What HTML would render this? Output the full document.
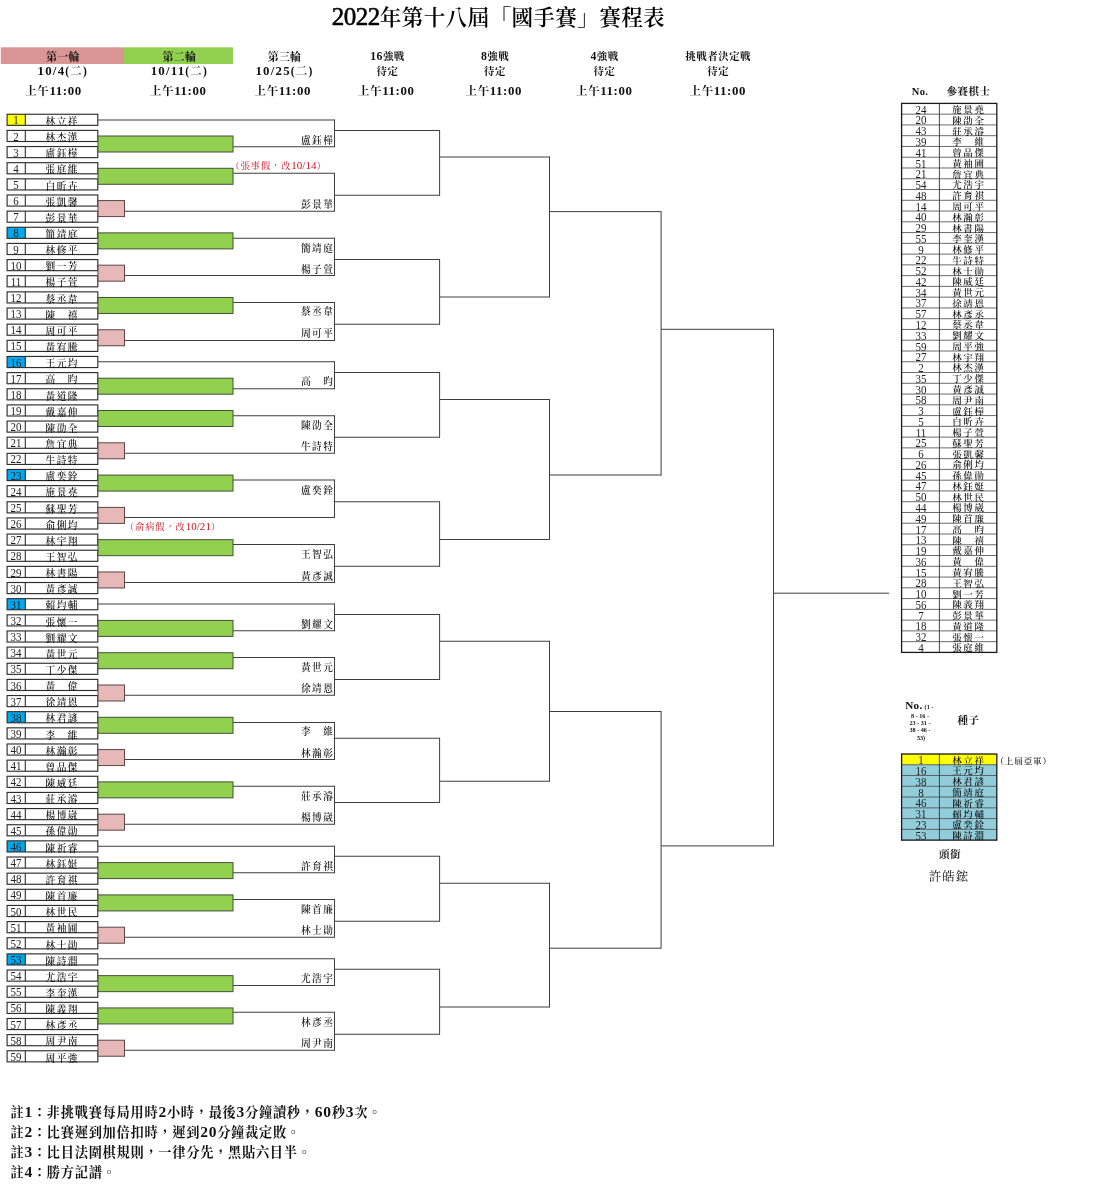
<!DOCTYPE html>
<html lang="zh-Hant"><head><meta charset="utf-8"><title>2022年第十八屆「國手賽」賽程表</title>
<style>
html,body{margin:0;padding:0;background:#fff;}
body{width:1098px;height:1200px;position:relative;overflow:hidden;font-family:"Liberation Serif","Noto Serif CJK SC",serif;color:#111;}
svg{position:absolute;left:0;top:0;}
.t{position:absolute;white-space:nowrap;transform:translateY(-50%);line-height:1;}
.num{font-size:13.2px;color:#222;transform:translateY(-50%) scaleX(0.83);}
.nm{font-size:9.7px;letter-spacing:1.45px;text-indent:1.45px;color:#000;font-weight:500;margin-top:1px;}
.hdA{font-size:11px;font-weight:bold;color:#111;letter-spacing:0.2px;}
.hdB{font-size:11.5px;font-weight:bold;color:#111;letter-spacing:1.2px;}
.hdS{font-size:10.5px;font-weight:bold;color:#111;letter-spacing:0.45px;}
.red{font-size:9.2px;color:#cc1020;letter-spacing:0.95px;}
.red .d{font-size:1.2em;line-height:0;letter-spacing:0;}
.nmT{font-size:9.5px;letter-spacing:1.6px;text-indent:1.6px;}
.title{font-size:21.6px;font-weight:600;color:#000;letter-spacing:0.35px;}
.title .d{font-size:25px;font-weight:normal;-webkit-text-stroke:0.55px #000;line-height:0;letter-spacing:-0.5px;}
.hd .d,.hdB .d,.hdS .d{font-size:1.12em;line-height:0;}
.note .d{font-size:15.5px;line-height:0;}
.hd{font-size:11.5px;font-weight:bold;color:#111;letter-spacing:0.6px;}
.hd2{font-size:10.5px;font-weight:bold;color:#111;letter-spacing:0.4px;}
.big{font-size:12.5px;letter-spacing:1px;}
.tiny{font-size:6.2px;font-weight:bold;}
.nob{font-size:11.2px;font-weight:bold;letter-spacing:0.3px;}
.note{font-size:13.2px;font-weight:bold;letter-spacing:0.75px;color:#111;}
</style></head><body>
<svg width="1098" height="1200" viewBox="0 0 1098 1200" shape-rendering="auto">
<rect x="0.80" y="47.30" width="123.20" height="16.70" fill="#d99694"/>
<rect x="124.00" y="47.30" width="109.00" height="16.70" fill="#92d050"/>
<rect x="7.10" y="114.25" width="18.20" height="11.10" fill="#ffff00"/>
<rect x="7.10" y="114.25" width="90.70" height="11.10" fill="none" stroke="#2e2e2e" stroke-width="1.15"/>
<line x1="25.30" y1="114.25" x2="25.30" y2="125.35" stroke="#2e2e2e" stroke-width="1.1"/>
<rect x="7.10" y="130.40" width="90.70" height="11.10" fill="none" stroke="#2e2e2e" stroke-width="1.15"/>
<line x1="25.30" y1="130.40" x2="25.30" y2="141.50" stroke="#2e2e2e" stroke-width="1.1"/>
<rect x="7.10" y="146.54" width="90.70" height="11.10" fill="none" stroke="#2e2e2e" stroke-width="1.15"/>
<line x1="25.30" y1="146.54" x2="25.30" y2="157.64" stroke="#2e2e2e" stroke-width="1.1"/>
<rect x="7.10" y="162.69" width="90.70" height="11.10" fill="none" stroke="#2e2e2e" stroke-width="1.15"/>
<line x1="25.30" y1="162.69" x2="25.30" y2="173.79" stroke="#2e2e2e" stroke-width="1.1"/>
<rect x="7.10" y="178.84" width="90.70" height="11.10" fill="none" stroke="#2e2e2e" stroke-width="1.15"/>
<line x1="25.30" y1="178.84" x2="25.30" y2="189.94" stroke="#2e2e2e" stroke-width="1.1"/>
<rect x="7.10" y="194.98" width="90.70" height="11.10" fill="none" stroke="#2e2e2e" stroke-width="1.15"/>
<line x1="25.30" y1="194.98" x2="25.30" y2="206.08" stroke="#2e2e2e" stroke-width="1.1"/>
<rect x="7.10" y="211.13" width="90.70" height="11.10" fill="none" stroke="#2e2e2e" stroke-width="1.15"/>
<line x1="25.30" y1="211.13" x2="25.30" y2="222.23" stroke="#2e2e2e" stroke-width="1.1"/>
<rect x="7.10" y="227.28" width="18.20" height="11.10" fill="#00a8ee"/>
<rect x="7.10" y="227.28" width="90.70" height="11.10" fill="none" stroke="#2e2e2e" stroke-width="1.15"/>
<line x1="25.30" y1="227.28" x2="25.30" y2="238.38" stroke="#2e2e2e" stroke-width="1.1"/>
<rect x="7.10" y="243.43" width="90.70" height="11.10" fill="none" stroke="#2e2e2e" stroke-width="1.15"/>
<line x1="25.30" y1="243.43" x2="25.30" y2="254.53" stroke="#2e2e2e" stroke-width="1.1"/>
<rect x="7.10" y="259.57" width="90.70" height="11.10" fill="none" stroke="#2e2e2e" stroke-width="1.15"/>
<line x1="25.30" y1="259.57" x2="25.30" y2="270.67" stroke="#2e2e2e" stroke-width="1.1"/>
<rect x="7.10" y="275.72" width="90.70" height="11.10" fill="none" stroke="#2e2e2e" stroke-width="1.15"/>
<line x1="25.30" y1="275.72" x2="25.30" y2="286.82" stroke="#2e2e2e" stroke-width="1.1"/>
<rect x="7.10" y="291.87" width="90.70" height="11.10" fill="none" stroke="#2e2e2e" stroke-width="1.15"/>
<line x1="25.30" y1="291.87" x2="25.30" y2="302.97" stroke="#2e2e2e" stroke-width="1.1"/>
<rect x="7.10" y="308.01" width="90.70" height="11.10" fill="none" stroke="#2e2e2e" stroke-width="1.15"/>
<line x1="25.30" y1="308.01" x2="25.30" y2="319.11" stroke="#2e2e2e" stroke-width="1.1"/>
<rect x="7.10" y="324.16" width="90.70" height="11.10" fill="none" stroke="#2e2e2e" stroke-width="1.15"/>
<line x1="25.30" y1="324.16" x2="25.30" y2="335.26" stroke="#2e2e2e" stroke-width="1.1"/>
<rect x="7.10" y="340.31" width="90.70" height="11.10" fill="none" stroke="#2e2e2e" stroke-width="1.15"/>
<line x1="25.30" y1="340.31" x2="25.30" y2="351.41" stroke="#2e2e2e" stroke-width="1.1"/>
<rect x="7.10" y="356.45" width="18.20" height="11.10" fill="#00a8ee"/>
<rect x="7.10" y="356.45" width="90.70" height="11.10" fill="none" stroke="#2e2e2e" stroke-width="1.15"/>
<line x1="25.30" y1="356.45" x2="25.30" y2="367.56" stroke="#2e2e2e" stroke-width="1.1"/>
<rect x="7.10" y="372.60" width="90.70" height="11.10" fill="none" stroke="#2e2e2e" stroke-width="1.15"/>
<line x1="25.30" y1="372.60" x2="25.30" y2="383.70" stroke="#2e2e2e" stroke-width="1.1"/>
<rect x="7.10" y="388.75" width="90.70" height="11.10" fill="none" stroke="#2e2e2e" stroke-width="1.15"/>
<line x1="25.30" y1="388.75" x2="25.30" y2="399.85" stroke="#2e2e2e" stroke-width="1.1"/>
<rect x="7.10" y="404.90" width="90.70" height="11.10" fill="none" stroke="#2e2e2e" stroke-width="1.15"/>
<line x1="25.30" y1="404.90" x2="25.30" y2="416.00" stroke="#2e2e2e" stroke-width="1.1"/>
<rect x="7.10" y="421.04" width="90.70" height="11.10" fill="none" stroke="#2e2e2e" stroke-width="1.15"/>
<line x1="25.30" y1="421.04" x2="25.30" y2="432.14" stroke="#2e2e2e" stroke-width="1.1"/>
<rect x="7.10" y="437.19" width="90.70" height="11.10" fill="none" stroke="#2e2e2e" stroke-width="1.15"/>
<line x1="25.30" y1="437.19" x2="25.30" y2="448.29" stroke="#2e2e2e" stroke-width="1.1"/>
<rect x="7.10" y="453.34" width="90.70" height="11.10" fill="none" stroke="#2e2e2e" stroke-width="1.15"/>
<line x1="25.30" y1="453.34" x2="25.30" y2="464.44" stroke="#2e2e2e" stroke-width="1.1"/>
<rect x="7.10" y="469.48" width="18.20" height="11.10" fill="#00a8ee"/>
<rect x="7.10" y="469.48" width="90.70" height="11.10" fill="none" stroke="#2e2e2e" stroke-width="1.15"/>
<line x1="25.30" y1="469.48" x2="25.30" y2="480.58" stroke="#2e2e2e" stroke-width="1.1"/>
<rect x="7.10" y="485.63" width="90.70" height="11.10" fill="none" stroke="#2e2e2e" stroke-width="1.15"/>
<line x1="25.30" y1="485.63" x2="25.30" y2="496.73" stroke="#2e2e2e" stroke-width="1.1"/>
<rect x="7.10" y="501.78" width="90.70" height="11.10" fill="none" stroke="#2e2e2e" stroke-width="1.15"/>
<line x1="25.30" y1="501.78" x2="25.30" y2="512.88" stroke="#2e2e2e" stroke-width="1.1"/>
<rect x="7.10" y="517.92" width="90.70" height="11.10" fill="none" stroke="#2e2e2e" stroke-width="1.15"/>
<line x1="25.30" y1="517.92" x2="25.30" y2="529.02" stroke="#2e2e2e" stroke-width="1.1"/>
<rect x="7.10" y="534.07" width="90.70" height="11.10" fill="none" stroke="#2e2e2e" stroke-width="1.15"/>
<line x1="25.30" y1="534.07" x2="25.30" y2="545.17" stroke="#2e2e2e" stroke-width="1.1"/>
<rect x="7.10" y="550.22" width="90.70" height="11.10" fill="none" stroke="#2e2e2e" stroke-width="1.15"/>
<line x1="25.30" y1="550.22" x2="25.30" y2="561.32" stroke="#2e2e2e" stroke-width="1.1"/>
<rect x="7.10" y="566.37" width="90.70" height="11.10" fill="none" stroke="#2e2e2e" stroke-width="1.15"/>
<line x1="25.30" y1="566.37" x2="25.30" y2="577.47" stroke="#2e2e2e" stroke-width="1.1"/>
<rect x="7.10" y="582.51" width="90.70" height="11.10" fill="none" stroke="#2e2e2e" stroke-width="1.15"/>
<line x1="25.30" y1="582.51" x2="25.30" y2="593.61" stroke="#2e2e2e" stroke-width="1.1"/>
<rect x="7.10" y="598.66" width="18.20" height="11.10" fill="#00a8ee"/>
<rect x="7.10" y="598.66" width="90.70" height="11.10" fill="none" stroke="#2e2e2e" stroke-width="1.15"/>
<line x1="25.30" y1="598.66" x2="25.30" y2="609.76" stroke="#2e2e2e" stroke-width="1.1"/>
<rect x="7.10" y="614.81" width="90.70" height="11.10" fill="none" stroke="#2e2e2e" stroke-width="1.15"/>
<line x1="25.30" y1="614.81" x2="25.30" y2="625.91" stroke="#2e2e2e" stroke-width="1.1"/>
<rect x="7.10" y="630.95" width="90.70" height="11.10" fill="none" stroke="#2e2e2e" stroke-width="1.15"/>
<line x1="25.30" y1="630.95" x2="25.30" y2="642.05" stroke="#2e2e2e" stroke-width="1.1"/>
<rect x="7.10" y="647.10" width="90.70" height="11.10" fill="none" stroke="#2e2e2e" stroke-width="1.15"/>
<line x1="25.30" y1="647.10" x2="25.30" y2="658.20" stroke="#2e2e2e" stroke-width="1.1"/>
<rect x="7.10" y="663.25" width="90.70" height="11.10" fill="none" stroke="#2e2e2e" stroke-width="1.15"/>
<line x1="25.30" y1="663.25" x2="25.30" y2="674.35" stroke="#2e2e2e" stroke-width="1.1"/>
<rect x="7.10" y="679.39" width="90.70" height="11.10" fill="none" stroke="#2e2e2e" stroke-width="1.15"/>
<line x1="25.30" y1="679.39" x2="25.30" y2="690.50" stroke="#2e2e2e" stroke-width="1.1"/>
<rect x="7.10" y="695.54" width="90.70" height="11.10" fill="none" stroke="#2e2e2e" stroke-width="1.15"/>
<line x1="25.30" y1="695.54" x2="25.30" y2="706.64" stroke="#2e2e2e" stroke-width="1.1"/>
<rect x="7.10" y="711.69" width="18.20" height="11.10" fill="#00a8ee"/>
<rect x="7.10" y="711.69" width="90.70" height="11.10" fill="none" stroke="#2e2e2e" stroke-width="1.15"/>
<line x1="25.30" y1="711.69" x2="25.30" y2="722.79" stroke="#2e2e2e" stroke-width="1.1"/>
<rect x="7.10" y="727.84" width="90.70" height="11.10" fill="none" stroke="#2e2e2e" stroke-width="1.15"/>
<line x1="25.30" y1="727.84" x2="25.30" y2="738.94" stroke="#2e2e2e" stroke-width="1.1"/>
<rect x="7.10" y="743.98" width="90.70" height="11.10" fill="none" stroke="#2e2e2e" stroke-width="1.15"/>
<line x1="25.30" y1="743.98" x2="25.30" y2="755.08" stroke="#2e2e2e" stroke-width="1.1"/>
<rect x="7.10" y="760.13" width="90.70" height="11.10" fill="none" stroke="#2e2e2e" stroke-width="1.15"/>
<line x1="25.30" y1="760.13" x2="25.30" y2="771.23" stroke="#2e2e2e" stroke-width="1.1"/>
<rect x="7.10" y="776.28" width="90.70" height="11.10" fill="none" stroke="#2e2e2e" stroke-width="1.15"/>
<line x1="25.30" y1="776.28" x2="25.30" y2="787.38" stroke="#2e2e2e" stroke-width="1.1"/>
<rect x="7.10" y="792.42" width="90.70" height="11.10" fill="none" stroke="#2e2e2e" stroke-width="1.15"/>
<line x1="25.30" y1="792.42" x2="25.30" y2="803.52" stroke="#2e2e2e" stroke-width="1.1"/>
<rect x="7.10" y="808.57" width="90.70" height="11.10" fill="none" stroke="#2e2e2e" stroke-width="1.15"/>
<line x1="25.30" y1="808.57" x2="25.30" y2="819.67" stroke="#2e2e2e" stroke-width="1.1"/>
<rect x="7.10" y="824.72" width="90.70" height="11.10" fill="none" stroke="#2e2e2e" stroke-width="1.15"/>
<line x1="25.30" y1="824.72" x2="25.30" y2="835.82" stroke="#2e2e2e" stroke-width="1.1"/>
<rect x="7.10" y="840.86" width="18.20" height="11.10" fill="#00a8ee"/>
<rect x="7.10" y="840.86" width="90.70" height="11.10" fill="none" stroke="#2e2e2e" stroke-width="1.15"/>
<line x1="25.30" y1="840.86" x2="25.30" y2="851.96" stroke="#2e2e2e" stroke-width="1.1"/>
<rect x="7.10" y="857.01" width="90.70" height="11.10" fill="none" stroke="#2e2e2e" stroke-width="1.15"/>
<line x1="25.30" y1="857.01" x2="25.30" y2="868.11" stroke="#2e2e2e" stroke-width="1.1"/>
<rect x="7.10" y="873.16" width="90.70" height="11.10" fill="none" stroke="#2e2e2e" stroke-width="1.15"/>
<line x1="25.30" y1="873.16" x2="25.30" y2="884.26" stroke="#2e2e2e" stroke-width="1.1"/>
<rect x="7.10" y="889.31" width="90.70" height="11.10" fill="none" stroke="#2e2e2e" stroke-width="1.15"/>
<line x1="25.30" y1="889.31" x2="25.30" y2="900.41" stroke="#2e2e2e" stroke-width="1.1"/>
<rect x="7.10" y="905.45" width="90.70" height="11.10" fill="none" stroke="#2e2e2e" stroke-width="1.15"/>
<line x1="25.30" y1="905.45" x2="25.30" y2="916.55" stroke="#2e2e2e" stroke-width="1.1"/>
<rect x="7.10" y="921.60" width="90.70" height="11.10" fill="none" stroke="#2e2e2e" stroke-width="1.15"/>
<line x1="25.30" y1="921.60" x2="25.30" y2="932.70" stroke="#2e2e2e" stroke-width="1.1"/>
<rect x="7.10" y="937.75" width="90.70" height="11.10" fill="none" stroke="#2e2e2e" stroke-width="1.15"/>
<line x1="25.30" y1="937.75" x2="25.30" y2="948.85" stroke="#2e2e2e" stroke-width="1.1"/>
<rect x="7.10" y="953.89" width="18.20" height="11.10" fill="#00a8ee"/>
<rect x="7.10" y="953.89" width="90.70" height="11.10" fill="none" stroke="#2e2e2e" stroke-width="1.15"/>
<line x1="25.30" y1="953.89" x2="25.30" y2="964.99" stroke="#2e2e2e" stroke-width="1.1"/>
<rect x="7.10" y="970.04" width="90.70" height="11.10" fill="none" stroke="#2e2e2e" stroke-width="1.15"/>
<line x1="25.30" y1="970.04" x2="25.30" y2="981.14" stroke="#2e2e2e" stroke-width="1.1"/>
<rect x="7.10" y="986.19" width="90.70" height="11.10" fill="none" stroke="#2e2e2e" stroke-width="1.15"/>
<line x1="25.30" y1="986.19" x2="25.30" y2="997.29" stroke="#2e2e2e" stroke-width="1.1"/>
<rect x="7.10" y="1002.33" width="90.70" height="11.10" fill="none" stroke="#2e2e2e" stroke-width="1.15"/>
<line x1="25.30" y1="1002.33" x2="25.30" y2="1013.43" stroke="#2e2e2e" stroke-width="1.1"/>
<rect x="7.10" y="1018.48" width="90.70" height="11.10" fill="none" stroke="#2e2e2e" stroke-width="1.15"/>
<line x1="25.30" y1="1018.48" x2="25.30" y2="1029.58" stroke="#2e2e2e" stroke-width="1.1"/>
<rect x="7.10" y="1034.63" width="90.70" height="11.10" fill="none" stroke="#2e2e2e" stroke-width="1.15"/>
<line x1="25.30" y1="1034.63" x2="25.30" y2="1045.73" stroke="#2e2e2e" stroke-width="1.1"/>
<rect x="7.10" y="1050.78" width="90.70" height="11.10" fill="none" stroke="#2e2e2e" stroke-width="1.15"/>
<line x1="25.30" y1="1050.78" x2="25.30" y2="1061.88" stroke="#2e2e2e" stroke-width="1.1"/>
<line x1="98.00" y1="120.00" x2="334.50" y2="120.00" stroke="#3f3f3f" stroke-width="1"/>
<line x1="233.00" y1="146.75" x2="334.50" y2="146.75" stroke="#3f3f3f" stroke-width="1"/>
<line x1="233.00" y1="173.25" x2="334.50" y2="173.25" stroke="#3f3f3f" stroke-width="1"/>
<line x1="124.50" y1="211.25" x2="334.50" y2="211.25" stroke="#3f3f3f" stroke-width="1"/>
<line x1="233.00" y1="238.25" x2="334.50" y2="238.25" stroke="#3f3f3f" stroke-width="1"/>
<line x1="124.50" y1="275.50" x2="334.50" y2="275.50" stroke="#3f3f3f" stroke-width="1"/>
<line x1="233.00" y1="302.50" x2="334.50" y2="302.50" stroke="#3f3f3f" stroke-width="1"/>
<line x1="124.50" y1="340.50" x2="334.50" y2="340.50" stroke="#3f3f3f" stroke-width="1"/>
<line x1="98.00" y1="361.75" x2="334.50" y2="361.75" stroke="#3f3f3f" stroke-width="1"/>
<line x1="233.00" y1="388.75" x2="334.50" y2="388.75" stroke="#3f3f3f" stroke-width="1"/>
<line x1="233.00" y1="415.75" x2="334.50" y2="415.75" stroke="#3f3f3f" stroke-width="1"/>
<line x1="124.50" y1="453.25" x2="334.50" y2="453.25" stroke="#3f3f3f" stroke-width="1"/>
<line x1="233.00" y1="480.00" x2="334.50" y2="480.00" stroke="#3f3f3f" stroke-width="1"/>
<line x1="124.50" y1="517.50" x2="334.50" y2="517.50" stroke="#3f3f3f" stroke-width="1"/>
<line x1="233.00" y1="544.50" x2="334.50" y2="544.50" stroke="#3f3f3f" stroke-width="1"/>
<line x1="124.50" y1="582.50" x2="334.50" y2="582.50" stroke="#3f3f3f" stroke-width="1"/>
<line x1="98.00" y1="604.00" x2="334.50" y2="604.00" stroke="#3f3f3f" stroke-width="1"/>
<line x1="233.00" y1="630.75" x2="334.50" y2="630.75" stroke="#3f3f3f" stroke-width="1"/>
<line x1="233.00" y1="657.50" x2="334.50" y2="657.50" stroke="#3f3f3f" stroke-width="1"/>
<line x1="124.50" y1="695.25" x2="334.50" y2="695.25" stroke="#3f3f3f" stroke-width="1"/>
<line x1="233.00" y1="722.50" x2="334.50" y2="722.50" stroke="#3f3f3f" stroke-width="1"/>
<line x1="124.50" y1="759.50" x2="334.50" y2="759.50" stroke="#3f3f3f" stroke-width="1"/>
<line x1="233.00" y1="786.25" x2="334.50" y2="786.25" stroke="#3f3f3f" stroke-width="1"/>
<line x1="124.50" y1="824.25" x2="334.50" y2="824.25" stroke="#3f3f3f" stroke-width="1"/>
<line x1="98.00" y1="846.25" x2="334.50" y2="846.25" stroke="#3f3f3f" stroke-width="1"/>
<line x1="233.00" y1="872.75" x2="334.50" y2="872.75" stroke="#3f3f3f" stroke-width="1"/>
<line x1="233.00" y1="899.50" x2="334.50" y2="899.50" stroke="#3f3f3f" stroke-width="1"/>
<line x1="124.50" y1="937.25" x2="334.50" y2="937.25" stroke="#3f3f3f" stroke-width="1"/>
<line x1="98.00" y1="958.75" x2="334.50" y2="958.75" stroke="#3f3f3f" stroke-width="1"/>
<line x1="233.00" y1="985.50" x2="334.50" y2="985.50" stroke="#3f3f3f" stroke-width="1"/>
<line x1="233.00" y1="1012.25" x2="334.50" y2="1012.25" stroke="#3f3f3f" stroke-width="1"/>
<line x1="124.50" y1="1050.25" x2="334.50" y2="1050.25" stroke="#3f3f3f" stroke-width="1"/>
<line x1="334.50" y1="119.50" x2="334.50" y2="147.25" stroke="#3f3f3f" stroke-width="1"/>
<line x1="334.50" y1="130.50" x2="439.60" y2="130.50" stroke="#3f3f3f" stroke-width="1"/>
<line x1="334.50" y1="172.75" x2="334.50" y2="211.75" stroke="#3f3f3f" stroke-width="1"/>
<line x1="334.50" y1="195.25" x2="439.60" y2="195.25" stroke="#3f3f3f" stroke-width="1"/>
<line x1="334.50" y1="237.75" x2="334.50" y2="276.00" stroke="#3f3f3f" stroke-width="1"/>
<line x1="334.50" y1="259.50" x2="439.60" y2="259.50" stroke="#3f3f3f" stroke-width="1"/>
<line x1="334.50" y1="302.00" x2="334.50" y2="341.00" stroke="#3f3f3f" stroke-width="1"/>
<line x1="334.50" y1="324.25" x2="439.60" y2="324.25" stroke="#3f3f3f" stroke-width="1"/>
<line x1="334.50" y1="361.25" x2="334.50" y2="389.25" stroke="#3f3f3f" stroke-width="1"/>
<line x1="334.50" y1="372.50" x2="439.60" y2="372.50" stroke="#3f3f3f" stroke-width="1"/>
<line x1="334.50" y1="415.25" x2="334.50" y2="453.75" stroke="#3f3f3f" stroke-width="1"/>
<line x1="334.50" y1="437.25" x2="439.60" y2="437.25" stroke="#3f3f3f" stroke-width="1"/>
<line x1="334.50" y1="479.50" x2="334.50" y2="518.00" stroke="#3f3f3f" stroke-width="1"/>
<line x1="334.50" y1="501.75" x2="439.60" y2="501.75" stroke="#3f3f3f" stroke-width="1"/>
<line x1="334.50" y1="544.00" x2="334.50" y2="583.00" stroke="#3f3f3f" stroke-width="1"/>
<line x1="334.50" y1="566.25" x2="439.60" y2="566.25" stroke="#3f3f3f" stroke-width="1"/>
<line x1="334.50" y1="603.50" x2="334.50" y2="631.25" stroke="#3f3f3f" stroke-width="1"/>
<line x1="334.50" y1="614.50" x2="439.60" y2="614.50" stroke="#3f3f3f" stroke-width="1"/>
<line x1="334.50" y1="657.00" x2="334.50" y2="695.75" stroke="#3f3f3f" stroke-width="1"/>
<line x1="334.50" y1="679.50" x2="439.60" y2="679.50" stroke="#3f3f3f" stroke-width="1"/>
<line x1="334.50" y1="722.00" x2="334.50" y2="760.00" stroke="#3f3f3f" stroke-width="1"/>
<line x1="334.50" y1="738.25" x2="439.60" y2="738.25" stroke="#3f3f3f" stroke-width="1"/>
<line x1="334.50" y1="785.75" x2="334.50" y2="824.75" stroke="#3f3f3f" stroke-width="1"/>
<line x1="334.50" y1="802.50" x2="439.60" y2="802.50" stroke="#3f3f3f" stroke-width="1"/>
<line x1="334.50" y1="845.75" x2="334.50" y2="873.25" stroke="#3f3f3f" stroke-width="1"/>
<line x1="334.50" y1="856.25" x2="439.60" y2="856.25" stroke="#3f3f3f" stroke-width="1"/>
<line x1="334.50" y1="899.00" x2="334.50" y2="937.75" stroke="#3f3f3f" stroke-width="1"/>
<line x1="334.50" y1="921.25" x2="439.60" y2="921.25" stroke="#3f3f3f" stroke-width="1"/>
<line x1="334.50" y1="958.25" x2="334.50" y2="986.00" stroke="#3f3f3f" stroke-width="1"/>
<line x1="334.50" y1="969.25" x2="439.60" y2="969.25" stroke="#3f3f3f" stroke-width="1"/>
<line x1="334.50" y1="1011.75" x2="334.50" y2="1050.75" stroke="#3f3f3f" stroke-width="1"/>
<line x1="334.50" y1="1034.25" x2="439.60" y2="1034.25" stroke="#3f3f3f" stroke-width="1"/>
<line x1="439.60" y1="130.00" x2="439.60" y2="195.75" stroke="#3f3f3f" stroke-width="1"/>
<line x1="439.60" y1="157.00" x2="549.50" y2="157.00" stroke="#3f3f3f" stroke-width="1"/>
<line x1="439.60" y1="259.00" x2="439.60" y2="324.75" stroke="#3f3f3f" stroke-width="1"/>
<line x1="439.60" y1="297.00" x2="549.50" y2="297.00" stroke="#3f3f3f" stroke-width="1"/>
<line x1="439.60" y1="372.00" x2="439.60" y2="437.75" stroke="#3f3f3f" stroke-width="1"/>
<line x1="439.60" y1="399.50" x2="549.50" y2="399.50" stroke="#3f3f3f" stroke-width="1"/>
<line x1="439.60" y1="501.25" x2="439.60" y2="566.75" stroke="#3f3f3f" stroke-width="1"/>
<line x1="439.60" y1="539.50" x2="549.50" y2="539.50" stroke="#3f3f3f" stroke-width="1"/>
<line x1="439.60" y1="614.00" x2="439.60" y2="680.00" stroke="#3f3f3f" stroke-width="1"/>
<line x1="439.60" y1="641.25" x2="549.50" y2="641.25" stroke="#3f3f3f" stroke-width="1"/>
<line x1="439.60" y1="737.75" x2="439.60" y2="803.00" stroke="#3f3f3f" stroke-width="1"/>
<line x1="439.60" y1="781.25" x2="549.50" y2="781.25" stroke="#3f3f3f" stroke-width="1"/>
<line x1="439.60" y1="855.75" x2="439.60" y2="921.75" stroke="#3f3f3f" stroke-width="1"/>
<line x1="439.60" y1="883.25" x2="549.50" y2="883.25" stroke="#3f3f3f" stroke-width="1"/>
<line x1="439.60" y1="968.75" x2="439.60" y2="1034.75" stroke="#3f3f3f" stroke-width="1"/>
<line x1="439.60" y1="1007.00" x2="549.50" y2="1007.00" stroke="#3f3f3f" stroke-width="1"/>
<line x1="549.50" y1="156.50" x2="549.50" y2="297.50" stroke="#3f3f3f" stroke-width="1"/>
<line x1="549.50" y1="211.60" x2="661.10" y2="211.60" stroke="#3f3f3f" stroke-width="1"/>
<line x1="549.50" y1="399.00" x2="549.50" y2="540.00" stroke="#3f3f3f" stroke-width="1"/>
<line x1="549.50" y1="475.00" x2="661.10" y2="475.00" stroke="#3f3f3f" stroke-width="1"/>
<line x1="549.50" y1="640.75" x2="549.50" y2="781.75" stroke="#3f3f3f" stroke-width="1"/>
<line x1="549.50" y1="711.50" x2="661.10" y2="711.50" stroke="#3f3f3f" stroke-width="1"/>
<line x1="549.50" y1="882.75" x2="549.50" y2="1007.50" stroke="#3f3f3f" stroke-width="1"/>
<line x1="549.50" y1="948.20" x2="661.10" y2="948.20" stroke="#3f3f3f" stroke-width="1"/>
<line x1="661.10" y1="211.10" x2="661.10" y2="475.50" stroke="#3f3f3f" stroke-width="1"/>
<line x1="661.10" y1="329.30" x2="773.50" y2="329.30" stroke="#3f3f3f" stroke-width="1"/>
<line x1="661.10" y1="711.00" x2="661.10" y2="948.70" stroke="#3f3f3f" stroke-width="1"/>
<line x1="661.10" y1="845.90" x2="773.50" y2="845.90" stroke="#3f3f3f" stroke-width="1"/>
<line x1="773.50" y1="328.80" x2="773.50" y2="846.40" stroke="#3f3f3f" stroke-width="1"/>
<line x1="773.50" y1="593.20" x2="889.00" y2="593.20" stroke="#3f3f3f" stroke-width="1"/>
<rect x="98.00" y="136.00" width="135.00" height="16.00" fill="#92d050" stroke="#44503a" stroke-width="1"/>
<rect x="98.00" y="168.29" width="135.00" height="16.00" fill="#92d050" stroke="#44503a" stroke-width="1"/>
<rect x="98.00" y="232.88" width="135.00" height="16.00" fill="#92d050" stroke="#44503a" stroke-width="1"/>
<rect x="98.00" y="297.47" width="135.00" height="16.00" fill="#92d050" stroke="#44503a" stroke-width="1"/>
<rect x="98.00" y="378.20" width="135.00" height="16.00" fill="#92d050" stroke="#44503a" stroke-width="1"/>
<rect x="98.00" y="410.50" width="135.00" height="16.00" fill="#92d050" stroke="#44503a" stroke-width="1"/>
<rect x="98.00" y="475.08" width="135.00" height="16.00" fill="#92d050" stroke="#44503a" stroke-width="1"/>
<rect x="98.00" y="539.67" width="135.00" height="16.00" fill="#92d050" stroke="#44503a" stroke-width="1"/>
<rect x="98.00" y="620.41" width="135.00" height="16.00" fill="#92d050" stroke="#44503a" stroke-width="1"/>
<rect x="98.00" y="652.70" width="135.00" height="16.00" fill="#92d050" stroke="#44503a" stroke-width="1"/>
<rect x="98.00" y="717.29" width="135.00" height="16.00" fill="#92d050" stroke="#44503a" stroke-width="1"/>
<rect x="98.00" y="781.88" width="135.00" height="16.00" fill="#92d050" stroke="#44503a" stroke-width="1"/>
<rect x="98.00" y="862.61" width="135.00" height="16.00" fill="#92d050" stroke="#44503a" stroke-width="1"/>
<rect x="98.00" y="894.91" width="135.00" height="16.00" fill="#92d050" stroke="#44503a" stroke-width="1"/>
<rect x="98.00" y="975.64" width="135.00" height="16.00" fill="#92d050" stroke="#44503a" stroke-width="1"/>
<rect x="98.00" y="1007.93" width="135.00" height="16.00" fill="#92d050" stroke="#44503a" stroke-width="1"/>
<rect x="98.00" y="200.58" width="26.50" height="16.00" fill="#e6b9b8" stroke="#5a4646" stroke-width="1"/>
<rect x="98.00" y="265.17" width="26.50" height="16.00" fill="#e6b9b8" stroke="#5a4646" stroke-width="1"/>
<rect x="98.00" y="329.76" width="26.50" height="16.00" fill="#e6b9b8" stroke="#5a4646" stroke-width="1"/>
<rect x="98.00" y="442.79" width="26.50" height="16.00" fill="#e6b9b8" stroke="#5a4646" stroke-width="1"/>
<rect x="98.00" y="507.38" width="26.50" height="16.00" fill="#e6b9b8" stroke="#5a4646" stroke-width="1"/>
<rect x="98.00" y="571.97" width="26.50" height="16.00" fill="#e6b9b8" stroke="#5a4646" stroke-width="1"/>
<rect x="98.00" y="685.00" width="26.50" height="16.00" fill="#e6b9b8" stroke="#5a4646" stroke-width="1"/>
<rect x="98.00" y="749.58" width="26.50" height="16.00" fill="#e6b9b8" stroke="#5a4646" stroke-width="1"/>
<rect x="98.00" y="814.17" width="26.50" height="16.00" fill="#e6b9b8" stroke="#5a4646" stroke-width="1"/>
<rect x="98.00" y="927.20" width="26.50" height="16.00" fill="#e6b9b8" stroke="#5a4646" stroke-width="1"/>
<rect x="98.00" y="1040.23" width="26.50" height="16.00" fill="#e6b9b8" stroke="#5a4646" stroke-width="1"/>
<line x1="901.60" y1="114.17" x2="996.80" y2="114.17" stroke="#444" stroke-width="0.8"/>
<line x1="901.60" y1="124.93" x2="996.80" y2="124.93" stroke="#444" stroke-width="0.8"/>
<line x1="901.60" y1="135.69" x2="996.80" y2="135.69" stroke="#444" stroke-width="0.8"/>
<line x1="901.60" y1="146.46" x2="996.80" y2="146.46" stroke="#444" stroke-width="0.8"/>
<line x1="901.60" y1="157.23" x2="996.80" y2="157.23" stroke="#444" stroke-width="0.8"/>
<line x1="901.60" y1="167.99" x2="996.80" y2="167.99" stroke="#444" stroke-width="0.8"/>
<line x1="901.60" y1="178.75" x2="996.80" y2="178.75" stroke="#444" stroke-width="0.8"/>
<line x1="901.60" y1="189.52" x2="996.80" y2="189.52" stroke="#444" stroke-width="0.8"/>
<line x1="901.60" y1="200.29" x2="996.80" y2="200.29" stroke="#444" stroke-width="0.8"/>
<line x1="901.60" y1="211.05" x2="996.80" y2="211.05" stroke="#444" stroke-width="0.8"/>
<line x1="901.60" y1="221.81" x2="996.80" y2="221.81" stroke="#444" stroke-width="0.8"/>
<line x1="901.60" y1="232.58" x2="996.80" y2="232.58" stroke="#444" stroke-width="0.8"/>
<line x1="901.60" y1="243.34" x2="996.80" y2="243.34" stroke="#444" stroke-width="0.8"/>
<line x1="901.60" y1="254.11" x2="996.80" y2="254.11" stroke="#444" stroke-width="0.8"/>
<line x1="901.60" y1="264.88" x2="996.80" y2="264.88" stroke="#444" stroke-width="0.8"/>
<line x1="901.60" y1="275.64" x2="996.80" y2="275.64" stroke="#444" stroke-width="0.8"/>
<line x1="901.60" y1="286.40" x2="996.80" y2="286.40" stroke="#444" stroke-width="0.8"/>
<line x1="901.60" y1="297.17" x2="996.80" y2="297.17" stroke="#444" stroke-width="0.8"/>
<line x1="901.60" y1="307.94" x2="996.80" y2="307.94" stroke="#444" stroke-width="0.8"/>
<line x1="901.60" y1="318.70" x2="996.80" y2="318.70" stroke="#444" stroke-width="0.8"/>
<line x1="901.60" y1="329.47" x2="996.80" y2="329.47" stroke="#444" stroke-width="0.8"/>
<line x1="901.60" y1="340.23" x2="996.80" y2="340.23" stroke="#444" stroke-width="0.8"/>
<line x1="901.60" y1="351.00" x2="996.80" y2="351.00" stroke="#444" stroke-width="0.8"/>
<line x1="901.60" y1="361.76" x2="996.80" y2="361.76" stroke="#444" stroke-width="0.8"/>
<line x1="901.60" y1="372.52" x2="996.80" y2="372.52" stroke="#444" stroke-width="0.8"/>
<line x1="901.60" y1="383.29" x2="996.80" y2="383.29" stroke="#444" stroke-width="0.8"/>
<line x1="901.60" y1="394.06" x2="996.80" y2="394.06" stroke="#444" stroke-width="0.8"/>
<line x1="901.60" y1="404.82" x2="996.80" y2="404.82" stroke="#444" stroke-width="0.8"/>
<line x1="901.60" y1="415.59" x2="996.80" y2="415.59" stroke="#444" stroke-width="0.8"/>
<line x1="901.60" y1="426.35" x2="996.80" y2="426.35" stroke="#444" stroke-width="0.8"/>
<line x1="901.60" y1="437.12" x2="996.80" y2="437.12" stroke="#444" stroke-width="0.8"/>
<line x1="901.60" y1="447.88" x2="996.80" y2="447.88" stroke="#444" stroke-width="0.8"/>
<line x1="901.60" y1="458.64" x2="996.80" y2="458.64" stroke="#444" stroke-width="0.8"/>
<line x1="901.60" y1="469.41" x2="996.80" y2="469.41" stroke="#444" stroke-width="0.8"/>
<line x1="901.60" y1="480.18" x2="996.80" y2="480.18" stroke="#444" stroke-width="0.8"/>
<line x1="901.60" y1="490.94" x2="996.80" y2="490.94" stroke="#444" stroke-width="0.8"/>
<line x1="901.60" y1="501.71" x2="996.80" y2="501.71" stroke="#444" stroke-width="0.8"/>
<line x1="901.60" y1="512.47" x2="996.80" y2="512.47" stroke="#444" stroke-width="0.8"/>
<line x1="901.60" y1="523.24" x2="996.80" y2="523.24" stroke="#444" stroke-width="0.8"/>
<line x1="901.60" y1="534.00" x2="996.80" y2="534.00" stroke="#444" stroke-width="0.8"/>
<line x1="901.60" y1="544.76" x2="996.80" y2="544.76" stroke="#444" stroke-width="0.8"/>
<line x1="901.60" y1="555.53" x2="996.80" y2="555.53" stroke="#444" stroke-width="0.8"/>
<line x1="901.60" y1="566.30" x2="996.80" y2="566.30" stroke="#444" stroke-width="0.8"/>
<line x1="901.60" y1="577.06" x2="996.80" y2="577.06" stroke="#444" stroke-width="0.8"/>
<line x1="901.60" y1="587.83" x2="996.80" y2="587.83" stroke="#444" stroke-width="0.8"/>
<line x1="901.60" y1="598.59" x2="996.80" y2="598.59" stroke="#444" stroke-width="0.8"/>
<line x1="901.60" y1="609.36" x2="996.80" y2="609.36" stroke="#444" stroke-width="0.8"/>
<line x1="901.60" y1="620.12" x2="996.80" y2="620.12" stroke="#444" stroke-width="0.8"/>
<line x1="901.60" y1="630.88" x2="996.80" y2="630.88" stroke="#444" stroke-width="0.8"/>
<line x1="901.60" y1="641.65" x2="996.80" y2="641.65" stroke="#444" stroke-width="0.8"/>
<line x1="939.40" y1="103.40" x2="939.40" y2="652.41" stroke="#333" stroke-width="0.9"/>
<rect x="901.60" y="103.40" width="95.20" height="549.01" fill="none" stroke="#1a1a1a" stroke-width="1.3"/>
<rect x="901.60" y="754.00" width="95.20" height="10.77" fill="#ffff00"/>
<rect x="901.60" y="764.76" width="95.20" height="10.77" fill="#92cddc"/>
<line x1="901.60" y1="764.76" x2="996.80" y2="764.76" stroke="#444" stroke-width="0.8"/>
<rect x="901.60" y="775.53" width="95.20" height="10.77" fill="#92cddc"/>
<line x1="901.60" y1="775.53" x2="996.80" y2="775.53" stroke="#444" stroke-width="0.8"/>
<rect x="901.60" y="786.29" width="95.20" height="10.77" fill="#92cddc"/>
<line x1="901.60" y1="786.29" x2="996.80" y2="786.29" stroke="#444" stroke-width="0.8"/>
<rect x="901.60" y="797.06" width="95.20" height="10.77" fill="#92cddc"/>
<line x1="901.60" y1="797.06" x2="996.80" y2="797.06" stroke="#444" stroke-width="0.8"/>
<rect x="901.60" y="807.83" width="95.20" height="10.77" fill="#92cddc"/>
<line x1="901.60" y1="807.83" x2="996.80" y2="807.83" stroke="#444" stroke-width="0.8"/>
<rect x="901.60" y="818.59" width="95.20" height="10.77" fill="#92cddc"/>
<line x1="901.60" y1="818.59" x2="996.80" y2="818.59" stroke="#444" stroke-width="0.8"/>
<rect x="901.60" y="829.36" width="95.20" height="10.77" fill="#92cddc"/>
<line x1="901.60" y1="829.36" x2="996.80" y2="829.36" stroke="#444" stroke-width="0.8"/>
<line x1="939.40" y1="754.00" x2="939.40" y2="840.12" stroke="#333" stroke-width="0.9"/>
<rect x="901.60" y="754.00" width="95.20" height="86.12" fill="none" stroke="#1a1a1a" stroke-width="1.3"/>
</svg>
<div class="t num" style="left:-103.80px;top:120.40px;width:240px;text-align:center;">1</div>
<div class="t nm" style="left:-58.45px;top:121.00px;width:240px;text-align:center;">林立祥</div>
<div class="t num" style="left:-103.80px;top:136.55px;width:240px;text-align:center;">2</div>
<div class="t nm" style="left:-58.45px;top:137.15px;width:240px;text-align:center;">林杰漢</div>
<div class="t num" style="left:-103.80px;top:152.69px;width:240px;text-align:center;">3</div>
<div class="t nm" style="left:-58.45px;top:153.29px;width:240px;text-align:center;">盧鈺樺</div>
<div class="t num" style="left:-103.80px;top:168.84px;width:240px;text-align:center;">4</div>
<div class="t nm" style="left:-58.45px;top:169.44px;width:240px;text-align:center;">張庭維</div>
<div class="t num" style="left:-103.80px;top:184.99px;width:240px;text-align:center;">5</div>
<div class="t nm" style="left:-58.45px;top:185.59px;width:240px;text-align:center;">白昕卉</div>
<div class="t num" style="left:-103.80px;top:201.13px;width:240px;text-align:center;">6</div>
<div class="t nm" style="left:-58.45px;top:201.73px;width:240px;text-align:center;">張凱馨</div>
<div class="t num" style="left:-103.80px;top:217.28px;width:240px;text-align:center;">7</div>
<div class="t nm" style="left:-58.45px;top:217.88px;width:240px;text-align:center;">彭景華</div>
<div class="t num" style="left:-103.80px;top:233.43px;width:240px;text-align:center;">8</div>
<div class="t nm" style="left:-58.45px;top:234.03px;width:240px;text-align:center;">簡靖庭</div>
<div class="t num" style="left:-103.80px;top:249.58px;width:240px;text-align:center;">9</div>
<div class="t nm" style="left:-58.45px;top:250.18px;width:240px;text-align:center;">林修平</div>
<div class="t num" style="left:-103.80px;top:265.72px;width:240px;text-align:center;">10</div>
<div class="t nm" style="left:-58.45px;top:266.32px;width:240px;text-align:center;">劉一芳</div>
<div class="t num" style="left:-103.80px;top:281.87px;width:240px;text-align:center;">11</div>
<div class="t nm" style="left:-58.45px;top:282.47px;width:240px;text-align:center;">楊子萱</div>
<div class="t num" style="left:-103.80px;top:298.02px;width:240px;text-align:center;">12</div>
<div class="t nm" style="left:-58.45px;top:298.62px;width:240px;text-align:center;">蔡丞韋</div>
<div class="t num" style="left:-103.80px;top:314.16px;width:240px;text-align:center;">13</div>
<div class="t nm" style="left:-58.45px;top:314.76px;width:240px;text-align:center;">陳　禧</div>
<div class="t num" style="left:-103.80px;top:330.31px;width:240px;text-align:center;">14</div>
<div class="t nm" style="left:-58.45px;top:330.91px;width:240px;text-align:center;">周可平</div>
<div class="t num" style="left:-103.80px;top:346.46px;width:240px;text-align:center;">15</div>
<div class="t nm" style="left:-58.45px;top:347.06px;width:240px;text-align:center;">黃宥騰</div>
<div class="t num" style="left:-103.80px;top:362.61px;width:240px;text-align:center;">16</div>
<div class="t nm" style="left:-58.45px;top:363.20px;width:240px;text-align:center;">王元均</div>
<div class="t num" style="left:-103.80px;top:378.75px;width:240px;text-align:center;">17</div>
<div class="t nm" style="left:-58.45px;top:379.35px;width:240px;text-align:center;">高　昀</div>
<div class="t num" style="left:-103.80px;top:394.90px;width:240px;text-align:center;">18</div>
<div class="t nm" style="left:-58.45px;top:395.50px;width:240px;text-align:center;">黃道隆</div>
<div class="t num" style="left:-103.80px;top:411.05px;width:240px;text-align:center;">19</div>
<div class="t nm" style="left:-58.45px;top:411.65px;width:240px;text-align:center;">戴嘉伸</div>
<div class="t num" style="left:-103.80px;top:427.19px;width:240px;text-align:center;">20</div>
<div class="t nm" style="left:-58.45px;top:427.79px;width:240px;text-align:center;">陳劭全</div>
<div class="t num" style="left:-103.80px;top:443.34px;width:240px;text-align:center;">21</div>
<div class="t nm" style="left:-58.45px;top:443.94px;width:240px;text-align:center;">詹宜典</div>
<div class="t num" style="left:-103.80px;top:459.49px;width:240px;text-align:center;">22</div>
<div class="t nm" style="left:-58.45px;top:460.09px;width:240px;text-align:center;">牛詩特</div>
<div class="t num" style="left:-103.80px;top:475.63px;width:240px;text-align:center;">23</div>
<div class="t nm" style="left:-58.45px;top:476.23px;width:240px;text-align:center;">盧奕銓</div>
<div class="t num" style="left:-103.80px;top:491.78px;width:240px;text-align:center;">24</div>
<div class="t nm" style="left:-58.45px;top:492.38px;width:240px;text-align:center;">施景堯</div>
<div class="t num" style="left:-103.80px;top:507.93px;width:240px;text-align:center;">25</div>
<div class="t nm" style="left:-58.45px;top:508.53px;width:240px;text-align:center;">蘇聖芳</div>
<div class="t num" style="left:-103.80px;top:524.07px;width:240px;text-align:center;">26</div>
<div class="t nm" style="left:-58.45px;top:524.67px;width:240px;text-align:center;">俞俐均</div>
<div class="t num" style="left:-103.80px;top:540.22px;width:240px;text-align:center;">27</div>
<div class="t nm" style="left:-58.45px;top:540.82px;width:240px;text-align:center;">林宇翔</div>
<div class="t num" style="left:-103.80px;top:556.37px;width:240px;text-align:center;">28</div>
<div class="t nm" style="left:-58.45px;top:556.97px;width:240px;text-align:center;">王智弘</div>
<div class="t num" style="left:-103.80px;top:572.52px;width:240px;text-align:center;">29</div>
<div class="t nm" style="left:-58.45px;top:573.12px;width:240px;text-align:center;">林書陽</div>
<div class="t num" style="left:-103.80px;top:588.66px;width:240px;text-align:center;">30</div>
<div class="t nm" style="left:-58.45px;top:589.26px;width:240px;text-align:center;">黃彥誠</div>
<div class="t num" style="left:-103.80px;top:604.81px;width:240px;text-align:center;">31</div>
<div class="t nm" style="left:-58.45px;top:605.41px;width:240px;text-align:center;">賴均輔</div>
<div class="t num" style="left:-103.80px;top:620.96px;width:240px;text-align:center;">32</div>
<div class="t nm" style="left:-58.45px;top:621.56px;width:240px;text-align:center;">張懷一</div>
<div class="t num" style="left:-103.80px;top:637.10px;width:240px;text-align:center;">33</div>
<div class="t nm" style="left:-58.45px;top:637.70px;width:240px;text-align:center;">劉耀文</div>
<div class="t num" style="left:-103.80px;top:653.25px;width:240px;text-align:center;">34</div>
<div class="t nm" style="left:-58.45px;top:653.85px;width:240px;text-align:center;">黃世元</div>
<div class="t num" style="left:-103.80px;top:669.40px;width:240px;text-align:center;">35</div>
<div class="t nm" style="left:-58.45px;top:670.00px;width:240px;text-align:center;">丁少傑</div>
<div class="t num" style="left:-103.80px;top:685.54px;width:240px;text-align:center;">36</div>
<div class="t nm" style="left:-58.45px;top:686.14px;width:240px;text-align:center;">黃　偉</div>
<div class="t num" style="left:-103.80px;top:701.69px;width:240px;text-align:center;">37</div>
<div class="t nm" style="left:-58.45px;top:702.29px;width:240px;text-align:center;">徐靖恩</div>
<div class="t num" style="left:-103.80px;top:717.84px;width:240px;text-align:center;">38</div>
<div class="t nm" style="left:-58.45px;top:718.44px;width:240px;text-align:center;">林君諺</div>
<div class="t num" style="left:-103.80px;top:733.99px;width:240px;text-align:center;">39</div>
<div class="t nm" style="left:-58.45px;top:734.59px;width:240px;text-align:center;">李　維</div>
<div class="t num" style="left:-103.80px;top:750.13px;width:240px;text-align:center;">40</div>
<div class="t nm" style="left:-58.45px;top:750.73px;width:240px;text-align:center;">林瀚彰</div>
<div class="t num" style="left:-103.80px;top:766.28px;width:240px;text-align:center;">41</div>
<div class="t nm" style="left:-58.45px;top:766.88px;width:240px;text-align:center;">曾品傑</div>
<div class="t num" style="left:-103.80px;top:782.43px;width:240px;text-align:center;">42</div>
<div class="t nm" style="left:-58.45px;top:783.03px;width:240px;text-align:center;">陳威廷</div>
<div class="t num" style="left:-103.80px;top:798.57px;width:240px;text-align:center;">43</div>
<div class="t nm" style="left:-58.45px;top:799.17px;width:240px;text-align:center;">莊承濬</div>
<div class="t num" style="left:-103.80px;top:814.72px;width:240px;text-align:center;">44</div>
<div class="t nm" style="left:-58.45px;top:815.32px;width:240px;text-align:center;">楊博崴</div>
<div class="t num" style="left:-103.80px;top:830.87px;width:240px;text-align:center;">45</div>
<div class="t nm" style="left:-58.45px;top:831.47px;width:240px;text-align:center;">孫偉勛</div>
<div class="t num" style="left:-103.80px;top:847.01px;width:240px;text-align:center;">46</div>
<div class="t nm" style="left:-58.45px;top:847.61px;width:240px;text-align:center;">陳祈睿</div>
<div class="t num" style="left:-103.80px;top:863.16px;width:240px;text-align:center;">47</div>
<div class="t nm" style="left:-58.45px;top:863.76px;width:240px;text-align:center;">林鈺娗</div>
<div class="t num" style="left:-103.80px;top:879.31px;width:240px;text-align:center;">48</div>
<div class="t nm" style="left:-58.45px;top:879.91px;width:240px;text-align:center;">許育祺</div>
<div class="t num" style="left:-103.80px;top:895.46px;width:240px;text-align:center;">49</div>
<div class="t nm" style="left:-58.45px;top:896.06px;width:240px;text-align:center;">陳首廉</div>
<div class="t num" style="left:-103.80px;top:911.60px;width:240px;text-align:center;">50</div>
<div class="t nm" style="left:-58.45px;top:912.20px;width:240px;text-align:center;">林世民</div>
<div class="t num" style="left:-103.80px;top:927.75px;width:240px;text-align:center;">51</div>
<div class="t nm" style="left:-58.45px;top:928.35px;width:240px;text-align:center;">黃袖圃</div>
<div class="t num" style="left:-103.80px;top:943.90px;width:240px;text-align:center;">52</div>
<div class="t nm" style="left:-58.45px;top:944.50px;width:240px;text-align:center;">林士勛</div>
<div class="t num" style="left:-103.80px;top:960.04px;width:240px;text-align:center;">53</div>
<div class="t nm" style="left:-58.45px;top:960.64px;width:240px;text-align:center;">陳詩淵</div>
<div class="t num" style="left:-103.80px;top:976.19px;width:240px;text-align:center;">54</div>
<div class="t nm" style="left:-58.45px;top:976.79px;width:240px;text-align:center;">尤浩宇</div>
<div class="t num" style="left:-103.80px;top:992.34px;width:240px;text-align:center;">55</div>
<div class="t nm" style="left:-58.45px;top:992.94px;width:240px;text-align:center;">李奎漢</div>
<div class="t num" style="left:-103.80px;top:1008.48px;width:240px;text-align:center;">56</div>
<div class="t nm" style="left:-58.45px;top:1009.08px;width:240px;text-align:center;">陳義翔</div>
<div class="t num" style="left:-103.80px;top:1024.63px;width:240px;text-align:center;">57</div>
<div class="t nm" style="left:-58.45px;top:1025.23px;width:240px;text-align:center;">林彥丞</div>
<div class="t num" style="left:-103.80px;top:1040.78px;width:240px;text-align:center;">58</div>
<div class="t nm" style="left:-58.45px;top:1041.38px;width:240px;text-align:center;">周尹南</div>
<div class="t num" style="left:-103.80px;top:1056.93px;width:240px;text-align:center;">59</div>
<div class="t nm" style="left:-58.45px;top:1057.53px;width:240px;text-align:center;">周平強</div>
<div class="t nm" style="left:196.90px;top:140.00px;width:240px;text-align:center;">盧鈺樺</div>
<div class="t nm" style="left:196.90px;top:204.25px;width:240px;text-align:center;">彭景華</div>
<div class="t nm" style="left:196.90px;top:247.50px;width:240px;text-align:center;">簡靖庭</div>
<div class="t nm" style="left:196.90px;top:268.75px;width:240px;text-align:center;">楊子萱</div>
<div class="t nm" style="left:196.90px;top:311.25px;width:240px;text-align:center;">蔡丞韋</div>
<div class="t nm" style="left:196.90px;top:332.50px;width:240px;text-align:center;">周可平</div>
<div class="t nm" style="left:196.90px;top:381.00px;width:240px;text-align:center;">高　昀</div>
<div class="t nm" style="left:196.90px;top:424.50px;width:240px;text-align:center;">陳劭全</div>
<div class="t nm" style="left:196.90px;top:445.75px;width:240px;text-align:center;">牛詩特</div>
<div class="t nm" style="left:196.90px;top:489.50px;width:240px;text-align:center;">盧奕銓</div>
<div class="t nm" style="left:196.90px;top:553.75px;width:240px;text-align:center;">王智弘</div>
<div class="t nm" style="left:196.90px;top:575.50px;width:240px;text-align:center;">黃彥誠</div>
<div class="t nm" style="left:196.90px;top:623.75px;width:240px;text-align:center;">劉耀文</div>
<div class="t nm" style="left:196.90px;top:666.75px;width:240px;text-align:center;">黃世元</div>
<div class="t nm" style="left:196.90px;top:688.25px;width:240px;text-align:center;">徐靖恩</div>
<div class="t nm" style="left:196.90px;top:730.75px;width:240px;text-align:center;">李　維</div>
<div class="t nm" style="left:196.90px;top:752.50px;width:240px;text-align:center;">林瀚彰</div>
<div class="t nm" style="left:196.90px;top:795.50px;width:240px;text-align:center;">莊承濬</div>
<div class="t nm" style="left:196.90px;top:817.00px;width:240px;text-align:center;">楊博崴</div>
<div class="t nm" style="left:196.90px;top:865.50px;width:240px;text-align:center;">許育祺</div>
<div class="t nm" style="left:196.90px;top:908.75px;width:240px;text-align:center;">陳首廉</div>
<div class="t nm" style="left:196.90px;top:930.00px;width:240px;text-align:center;">林士勛</div>
<div class="t nm" style="left:196.90px;top:978.25px;width:240px;text-align:center;">尤浩宇</div>
<div class="t nm" style="left:196.90px;top:1021.75px;width:240px;text-align:center;">林彥丞</div>
<div class="t nm" style="left:196.90px;top:1043.00px;width:240px;text-align:center;">周尹南</div>
<div class="t red" style="left:158.55px;top:166.60px;width:240px;text-align:center;">（張事假，改<span class="d">10/14</span>）</div>
<div class="t red" style="left:53.00px;top:527.70px;width:240px;text-align:center;">（俞病假，改<span class="d">10/21</span>）</div>
<div class="t title" style="left:248.40px;top:18.60px;width:500px;text-align:center;"><span class="d">2022</span>年第十八屆「國手賽」賽程表</div>
<div class="t hdA" style="left:-57.20px;top:56.80px;width:240px;text-align:center;">第一輪</div>
<div class="t hdB" style="left:-57.20px;top:71.80px;width:240px;text-align:center;"><span class="d">10/4</span>(二)</div>
<div class="t hd" style="left:-66.50px;top:92.20px;width:240px;text-align:center;">上午<span class="d">11:00</span></div>
<div class="t hdA" style="left:59.40px;top:56.80px;width:240px;text-align:center;">第二輪</div>
<div class="t hdB" style="left:59.40px;top:71.80px;width:240px;text-align:center;"><span class="d">10/11</span>(二)</div>
<div class="t hd" style="left:58.20px;top:92.20px;width:240px;text-align:center;">上午<span class="d">11:00</span></div>
<div class="t hdA" style="left:164.50px;top:56.80px;width:240px;text-align:center;">第三輪</div>
<div class="t hdB" style="left:164.50px;top:71.80px;width:240px;text-align:center;"><span class="d">10/25</span>(二)</div>
<div class="t hd" style="left:162.80px;top:92.20px;width:240px;text-align:center;">上午<span class="d">11:00</span></div>
<div class="t hdS" style="left:267.50px;top:56.80px;width:240px;text-align:center;"><span class="d">16</span>強戰</div>
<div class="t hdS" style="left:267.50px;top:71.80px;width:240px;text-align:center;">待定</div>
<div class="t hd" style="left:266.20px;top:92.20px;width:240px;text-align:center;">上午<span class="d">11:00</span></div>
<div class="t hdS" style="left:375.00px;top:56.80px;width:240px;text-align:center;"><span class="d">8</span>強戰</div>
<div class="t hdS" style="left:375.00px;top:71.80px;width:240px;text-align:center;">待定</div>
<div class="t hd" style="left:373.80px;top:92.20px;width:240px;text-align:center;">上午<span class="d">11:00</span></div>
<div class="t hdS" style="left:484.50px;top:56.80px;width:240px;text-align:center;"><span class="d">4</span>強戰</div>
<div class="t hdS" style="left:484.50px;top:71.80px;width:240px;text-align:center;">待定</div>
<div class="t hd" style="left:484.30px;top:92.20px;width:240px;text-align:center;">上午<span class="d">11:00</span></div>
<div class="t hdS" style="left:598.20px;top:56.80px;width:240px;text-align:center;">挑戰者決定戰</div>
<div class="t hdS" style="left:598.20px;top:71.80px;width:240px;text-align:center;">待定</div>
<div class="t hd" style="left:597.80px;top:92.20px;width:240px;text-align:center;">上午<span class="d">11:00</span></div>
<div class="t num" style="left:800.50px;top:109.68px;width:240px;text-align:center;">24</div>
<div class="t nm nmT" style="left:848.10px;top:110.08px;width:240px;text-align:center;">施景堯</div>
<div class="t num" style="left:800.50px;top:120.45px;width:240px;text-align:center;">20</div>
<div class="t nm nmT" style="left:848.10px;top:120.85px;width:240px;text-align:center;">陳劭全</div>
<div class="t num" style="left:800.50px;top:131.21px;width:240px;text-align:center;">43</div>
<div class="t nm nmT" style="left:848.10px;top:131.61px;width:240px;text-align:center;">莊承濬</div>
<div class="t num" style="left:800.50px;top:141.98px;width:240px;text-align:center;">39</div>
<div class="t nm nmT" style="left:848.10px;top:142.38px;width:240px;text-align:center;">李　維</div>
<div class="t num" style="left:800.50px;top:152.74px;width:240px;text-align:center;">41</div>
<div class="t nm nmT" style="left:848.10px;top:153.14px;width:240px;text-align:center;">曾品傑</div>
<div class="t num" style="left:800.50px;top:163.51px;width:240px;text-align:center;">51</div>
<div class="t nm nmT" style="left:848.10px;top:163.91px;width:240px;text-align:center;">黃袖圃</div>
<div class="t num" style="left:800.50px;top:174.27px;width:240px;text-align:center;">21</div>
<div class="t nm nmT" style="left:848.10px;top:174.67px;width:240px;text-align:center;">詹宜典</div>
<div class="t num" style="left:800.50px;top:185.04px;width:240px;text-align:center;">54</div>
<div class="t nm nmT" style="left:848.10px;top:185.44px;width:240px;text-align:center;">尤浩宇</div>
<div class="t num" style="left:800.50px;top:195.80px;width:240px;text-align:center;">48</div>
<div class="t nm nmT" style="left:848.10px;top:196.20px;width:240px;text-align:center;">許育祺</div>
<div class="t num" style="left:800.50px;top:206.57px;width:240px;text-align:center;">14</div>
<div class="t nm nmT" style="left:848.10px;top:206.97px;width:240px;text-align:center;">周可平</div>
<div class="t num" style="left:800.50px;top:217.33px;width:240px;text-align:center;">40</div>
<div class="t nm nmT" style="left:848.10px;top:217.73px;width:240px;text-align:center;">林瀚彰</div>
<div class="t num" style="left:800.50px;top:228.10px;width:240px;text-align:center;">29</div>
<div class="t nm nmT" style="left:848.10px;top:228.50px;width:240px;text-align:center;">林書陽</div>
<div class="t num" style="left:800.50px;top:238.86px;width:240px;text-align:center;">55</div>
<div class="t nm nmT" style="left:848.10px;top:239.26px;width:240px;text-align:center;">李奎漢</div>
<div class="t num" style="left:800.50px;top:249.63px;width:240px;text-align:center;">9</div>
<div class="t nm nmT" style="left:848.10px;top:250.03px;width:240px;text-align:center;">林修平</div>
<div class="t num" style="left:800.50px;top:260.39px;width:240px;text-align:center;">22</div>
<div class="t nm nmT" style="left:848.10px;top:260.79px;width:240px;text-align:center;">牛詩特</div>
<div class="t num" style="left:800.50px;top:271.16px;width:240px;text-align:center;">52</div>
<div class="t nm nmT" style="left:848.10px;top:271.56px;width:240px;text-align:center;">林士勛</div>
<div class="t num" style="left:800.50px;top:281.92px;width:240px;text-align:center;">42</div>
<div class="t nm nmT" style="left:848.10px;top:282.32px;width:240px;text-align:center;">陳威廷</div>
<div class="t num" style="left:800.50px;top:292.69px;width:240px;text-align:center;">34</div>
<div class="t nm nmT" style="left:848.10px;top:293.09px;width:240px;text-align:center;">黃世元</div>
<div class="t num" style="left:800.50px;top:303.45px;width:240px;text-align:center;">37</div>
<div class="t nm nmT" style="left:848.10px;top:303.85px;width:240px;text-align:center;">徐靖恩</div>
<div class="t num" style="left:800.50px;top:314.22px;width:240px;text-align:center;">57</div>
<div class="t nm nmT" style="left:848.10px;top:314.62px;width:240px;text-align:center;">林彥丞</div>
<div class="t num" style="left:800.50px;top:324.98px;width:240px;text-align:center;">12</div>
<div class="t nm nmT" style="left:848.10px;top:325.38px;width:240px;text-align:center;">蔡丞韋</div>
<div class="t num" style="left:800.50px;top:335.75px;width:240px;text-align:center;">33</div>
<div class="t nm nmT" style="left:848.10px;top:336.15px;width:240px;text-align:center;">劉耀文</div>
<div class="t num" style="left:800.50px;top:346.51px;width:240px;text-align:center;">59</div>
<div class="t nm nmT" style="left:848.10px;top:346.91px;width:240px;text-align:center;">周平強</div>
<div class="t num" style="left:800.50px;top:357.28px;width:240px;text-align:center;">27</div>
<div class="t nm nmT" style="left:848.10px;top:357.68px;width:240px;text-align:center;">林宇翔</div>
<div class="t num" style="left:800.50px;top:368.04px;width:240px;text-align:center;">2</div>
<div class="t nm nmT" style="left:848.10px;top:368.44px;width:240px;text-align:center;">林杰漢</div>
<div class="t num" style="left:800.50px;top:378.81px;width:240px;text-align:center;">35</div>
<div class="t nm nmT" style="left:848.10px;top:379.21px;width:240px;text-align:center;">丁少傑</div>
<div class="t num" style="left:800.50px;top:389.57px;width:240px;text-align:center;">30</div>
<div class="t nm nmT" style="left:848.10px;top:389.97px;width:240px;text-align:center;">黃彥誠</div>
<div class="t num" style="left:800.50px;top:400.34px;width:240px;text-align:center;">58</div>
<div class="t nm nmT" style="left:848.10px;top:400.74px;width:240px;text-align:center;">周尹南</div>
<div class="t num" style="left:800.50px;top:411.10px;width:240px;text-align:center;">3</div>
<div class="t nm nmT" style="left:848.10px;top:411.50px;width:240px;text-align:center;">盧鈺樺</div>
<div class="t num" style="left:800.50px;top:421.87px;width:240px;text-align:center;">5</div>
<div class="t nm nmT" style="left:848.10px;top:422.27px;width:240px;text-align:center;">白昕卉</div>
<div class="t num" style="left:800.50px;top:432.63px;width:240px;text-align:center;">11</div>
<div class="t nm nmT" style="left:848.10px;top:433.03px;width:240px;text-align:center;">楊子萱</div>
<div class="t num" style="left:800.50px;top:443.40px;width:240px;text-align:center;">25</div>
<div class="t nm nmT" style="left:848.10px;top:443.80px;width:240px;text-align:center;">蘇聖芳</div>
<div class="t num" style="left:800.50px;top:454.16px;width:240px;text-align:center;">6</div>
<div class="t nm nmT" style="left:848.10px;top:454.56px;width:240px;text-align:center;">張凱馨</div>
<div class="t num" style="left:800.50px;top:464.93px;width:240px;text-align:center;">26</div>
<div class="t nm nmT" style="left:848.10px;top:465.33px;width:240px;text-align:center;">俞俐均</div>
<div class="t num" style="left:800.50px;top:475.69px;width:240px;text-align:center;">45</div>
<div class="t nm nmT" style="left:848.10px;top:476.09px;width:240px;text-align:center;">孫偉勛</div>
<div class="t num" style="left:800.50px;top:486.46px;width:240px;text-align:center;">47</div>
<div class="t nm nmT" style="left:848.10px;top:486.86px;width:240px;text-align:center;">林鈺娗</div>
<div class="t num" style="left:800.50px;top:497.22px;width:240px;text-align:center;">50</div>
<div class="t nm nmT" style="left:848.10px;top:497.62px;width:240px;text-align:center;">林世民</div>
<div class="t num" style="left:800.50px;top:507.99px;width:240px;text-align:center;">44</div>
<div class="t nm nmT" style="left:848.10px;top:508.39px;width:240px;text-align:center;">楊博崴</div>
<div class="t num" style="left:800.50px;top:518.75px;width:240px;text-align:center;">49</div>
<div class="t nm nmT" style="left:848.10px;top:519.15px;width:240px;text-align:center;">陳首廉</div>
<div class="t num" style="left:800.50px;top:529.52px;width:240px;text-align:center;">17</div>
<div class="t nm nmT" style="left:848.10px;top:529.92px;width:240px;text-align:center;">高　昀</div>
<div class="t num" style="left:800.50px;top:540.28px;width:240px;text-align:center;">13</div>
<div class="t nm nmT" style="left:848.10px;top:540.68px;width:240px;text-align:center;">陳　禧</div>
<div class="t num" style="left:800.50px;top:551.05px;width:240px;text-align:center;">19</div>
<div class="t nm nmT" style="left:848.10px;top:551.45px;width:240px;text-align:center;">戴嘉伸</div>
<div class="t num" style="left:800.50px;top:561.81px;width:240px;text-align:center;">36</div>
<div class="t nm nmT" style="left:848.10px;top:562.21px;width:240px;text-align:center;">黃　偉</div>
<div class="t num" style="left:800.50px;top:572.58px;width:240px;text-align:center;">15</div>
<div class="t nm nmT" style="left:848.10px;top:572.98px;width:240px;text-align:center;">黃宥騰</div>
<div class="t num" style="left:800.50px;top:583.34px;width:240px;text-align:center;">28</div>
<div class="t nm nmT" style="left:848.10px;top:583.74px;width:240px;text-align:center;">王智弘</div>
<div class="t num" style="left:800.50px;top:594.11px;width:240px;text-align:center;">10</div>
<div class="t nm nmT" style="left:848.10px;top:594.51px;width:240px;text-align:center;">劉一芳</div>
<div class="t num" style="left:800.50px;top:604.87px;width:240px;text-align:center;">56</div>
<div class="t nm nmT" style="left:848.10px;top:605.27px;width:240px;text-align:center;">陳義翔</div>
<div class="t num" style="left:800.50px;top:615.64px;width:240px;text-align:center;">7</div>
<div class="t nm nmT" style="left:848.10px;top:616.04px;width:240px;text-align:center;">彭景華</div>
<div class="t num" style="left:800.50px;top:626.40px;width:240px;text-align:center;">18</div>
<div class="t nm nmT" style="left:848.10px;top:626.80px;width:240px;text-align:center;">黃道隆</div>
<div class="t num" style="left:800.50px;top:637.17px;width:240px;text-align:center;">32</div>
<div class="t nm nmT" style="left:848.10px;top:637.57px;width:240px;text-align:center;">張懷一</div>
<div class="t num" style="left:800.50px;top:647.93px;width:240px;text-align:center;">4</div>
<div class="t nm nmT" style="left:848.10px;top:648.33px;width:240px;text-align:center;">張庭維</div>
<div class="t hd2" style="left:800.00px;top:91.60px;width:240px;text-align:center;">No.</div>
<div class="t hd2" style="left:848.50px;top:91.60px;width:240px;text-align:center;">參賽棋士</div>
<div class="t num" style="left:800.50px;top:760.28px;width:240px;text-align:center;">1</div>
<div class="t nm nmT" style="left:848.10px;top:760.68px;width:240px;text-align:center;">林立祥</div>
<div class="t num" style="left:800.50px;top:771.05px;width:240px;text-align:center;">16</div>
<div class="t nm nmT" style="left:848.10px;top:771.45px;width:240px;text-align:center;">王元均</div>
<div class="t num" style="left:800.50px;top:781.81px;width:240px;text-align:center;">38</div>
<div class="t nm nmT" style="left:848.10px;top:782.21px;width:240px;text-align:center;">林君諺</div>
<div class="t num" style="left:800.50px;top:792.58px;width:240px;text-align:center;">8</div>
<div class="t nm nmT" style="left:848.10px;top:792.98px;width:240px;text-align:center;">簡靖庭</div>
<div class="t num" style="left:800.50px;top:803.34px;width:240px;text-align:center;">46</div>
<div class="t nm nmT" style="left:848.10px;top:803.74px;width:240px;text-align:center;">陳祈睿</div>
<div class="t num" style="left:800.50px;top:814.11px;width:240px;text-align:center;">31</div>
<div class="t nm nmT" style="left:848.10px;top:814.51px;width:240px;text-align:center;">賴均輔</div>
<div class="t num" style="left:800.50px;top:824.87px;width:240px;text-align:center;">23</div>
<div class="t nm nmT" style="left:848.10px;top:825.27px;width:240px;text-align:center;">盧奕銓</div>
<div class="t num" style="left:800.50px;top:835.64px;width:240px;text-align:center;">53</div>
<div class="t nm nmT" style="left:848.10px;top:836.04px;width:240px;text-align:center;">陳詩淵</div>
<div class="t nm" style="left:994.00px;top:759.80px;width:80px;text-align:left;letter-spacing:0.9px;font-size:8.5px;">（上屆亞軍）</div>
<div class="t hd2" style="left:848.50px;top:720.60px;width:240px;text-align:center;">種子</div>
<div class="t hd2" style="left:830.00px;top:855.40px;width:240px;text-align:center;">頭銜</div>
<div class="t big" style="left:829.00px;top:877.00px;width:240px;text-align:center;">許皓鋐</div>
<div class="t nob" style="left:905.20px;top:705.80px;width:30px;text-align:left;">No.</div>
<div class="t tiny" style="left:809.00px;top:706.80px;width:240px;text-align:center;">(1 -</div>
<div class="t tiny" style="left:800.00px;top:715.60px;width:240px;text-align:center;">8 - 16 -</div>
<div class="t tiny" style="left:800.00px;top:722.80px;width:240px;text-align:center;">23 - 31 -</div>
<div class="t tiny" style="left:800.00px;top:730.40px;width:240px;text-align:center;">38 - 46 -</div>
<div class="t tiny" style="left:801.00px;top:738.00px;width:240px;text-align:center;">53)</div>
<div class="t note" style="left:10.50px;top:1112.90px;width:600px;text-align:left;">註<span class="d">1</span>：非挑戰賽每局用時<span class="d">2</span>小時，最後<span class="d">3</span>分鐘讀秒，<span class="d">60</span>秒<span class="d">3</span>次。</div>
<div class="t note" style="left:10.50px;top:1133.30px;width:600px;text-align:left;">註<span class="d">2</span>：比賽遲到加倍扣時，遲到<span class="d">20</span>分鐘裁定敗。</div>
<div class="t note" style="left:10.50px;top:1153.00px;width:600px;text-align:left;">註<span class="d">3</span>：比目法圍棋規則，一律分先，黑貼六目半。</div>
<div class="t note" style="left:10.50px;top:1173.00px;width:600px;text-align:left;">註<span class="d">4</span>：勝方記譜。</div>
</body></html>
